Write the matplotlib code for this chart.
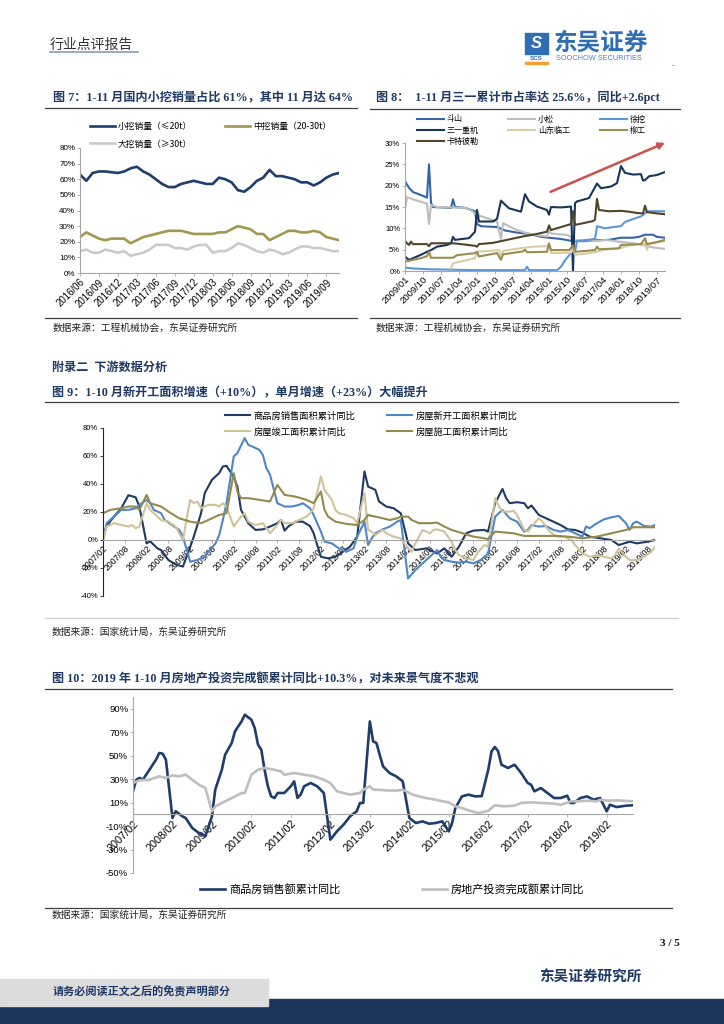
import numpy as np
import pandas as pd
import matplotlib
matplotlib.use('Agg')
import matplotlib.pyplot as plt
from matplotlib.lines import Line2D
from matplotlib.patches import Rectangle
from matplotlib.ticker import FuncFormatter

W, H = 724, 1024
CJK = 'Noto Sans CJK SC'
SANS = ['Liberation Sans', CJK]
SERIF = ['Liberation Serif', CJK]
TITLE_C = '#1F3864'

plt.rcParams['font.family'] = SANS
plt.rcParams['axes.unicode_minus'] = False

# ---------------- data ----------------
# Fig 7: monthly share of excavator sales, 2016/06 - 2019/11
exc_start = '2016-06'
exc_small = [63, 59, 64, 65, 65, 64.5, 64, 65, 67, 68, 65, 63, 60, 57, 55, 55, 57, 58, 59, 58, 57,
             57, 61, 60, 58, 53, 52, 55, 59, 61, 66, 62, 62, 61, 60, 58, 58, 56, 58, 61, 63, 64]
exc_mid = [23, 26, 24, 22, 21, 22, 22, 22, 19, 21, 23, 24, 25, 26, 27, 27, 27, 26, 25, 25, 25,
           25, 26, 26, 28, 30, 29, 28, 25, 25, 21, 23, 25, 27, 27, 26, 26, 27, 26, 23, 22, 21]
exc_large = [14, 15, 13, 13, 15, 14, 13, 14, 11, 12, 13, 15, 18, 18, 18, 16, 16, 15, 17, 18, 18,
             13, 14, 14, 16, 19, 18, 16, 14, 13, 15, 14, 12, 13, 15, 17, 17, 16, 16, 15, 14, 14]
exc_labels = ['小挖销量（≤20t）', '中挖销量（20-30t）', '大挖销量（≥30t）']

# Fig 8: market share, (months since 2009/01, %)
share_start, share_end = '2009-01', '2019-11'
doosan = [(0, 21), (2, 19.5), (4, 18.5), (8, 17.8), (11, 17.2), (12, 25), (13, 16), (14, 15), (23, 14.8),
          (24, 16.8), (25, 15), (30, 14.8), (35, 14), (36, 11), (38, 10.5), (46, 10.3), (50, 9.5), (56, 9),
          (62, 8.7), (68, 8), (72, 7.8), (78, 7.5), (84, 7), (90, 7), (96, 7.2), (102, 7.3), (108, 7.8),
          (114, 7.8), (117, 8), (120, 8.5), (124, 8.5), (126, 8), (130, 7.8)]
komatsu = [(0, 14.5), (1, 17.3), (4, 16.8), (8, 16.2), (11, 15.8), (12, 11), (13, 15.5), (16, 15), (30, 14.8),
           (33, 14.2), (36, 13.2), (40, 12.5), (46, 11.6), (48, 7.5), (49, 11.2), (52, 10.5), (56, 9.6),
           (60, 9), (64, 8.5), (71, 8.1), (72, 9.5), (73, 8.8), (80, 8.5), (82, 8.3), (84, 7.2), (90, 7.2),
           (96, 7), (100, 7.3), (108, 6.8), (114, 6.5), (120, 6), (124, 5.5), (130, 5.2)]
xcmg = [(0, 0.8), (4, 0.6), (12, 0.4), (24, 0.3), (36, 0.2), (60, 0.2), (61, 1.0), (62, 0.2), (76, 0.2),
        (78, 1), (80, 2.5), (83, 4.2), (85, 4.5), (86, 7), (95, 7.5), (96, 10.5), (100, 10), (104, 10.3),
        (108, 10.5), (110, 11.5), (116, 12.5), (118, 12.8), (120, 13.5), (121, 14), (130, 14)]
sany = [(0, 3.4), (2, 2.6), (4, 3), (8, 3.8), (11, 4.5), (13, 4.9), (16, 5.7), (21, 6.1), (23, 6.5), (24, 8),
        (25, 7.3), (32, 7.7), (35, 9.2), (36, 14.3), (37, 11.6), (44, 11.6), (46, 12.2), (48, 16.5),
        (49, 16), (52, 14.7), (58, 13.9), (60, 18), (62, 16.3), (66, 15.1), (71, 14.3), (72, 13.2),
        (73, 15), (78, 14.9), (83, 15.1), (84, 0), (85, 15.9), (86, 16.3), (92, 17.1), (96, 20.5),
        (98, 19.4), (103, 19.8), (106, 20.6), (108, 24.6), (110, 23), (114, 22.6), (118, 22.7),
        (119, 21.2), (120, 21.3), (122, 22.2), (126, 22.5), (130, 23.2)]
sdlg = [(23, 0.6), (24, 1.8), (35, 3.0), (36, 4.5), (47, 4.9), (48, 3.4), (49, 4.7), (60, 5.5), (64, 5.7),
        (71, 5.8), (72, 6.3), (73, 4.2), (83, 4.3), (84, 5.2), (85, 3.8), (94, 4.3), (100, 5), (108, 5.4),
        (112, 6.0), (120, 6.5), (121, 5.0), (122, 6.3), (130, 7.0)]
liugong = [(0, 2.2), (4, 2.6), (8, 3.0), (11, 3.5), (12, 4.5), (13, 3.1), (24, 3.1), (26, 3.7), (35, 4.2),
           (36, 4.5), (37, 3.4), (46, 4.2), (48, 2.6), (49, 3.9), (59, 4.6), (60, 5.0), (61, 4.4), (71, 4.5),
           (72, 6.5), (73, 4.9), (82, 4.9), (84, 6), (85, 4.5), (95, 4.9), (96, 5.7), (97, 5.1), (107, 5.3),
           (108, 6.1), (118, 6.3), (120, 7.7), (121, 6.3), (126, 6.8), (130, 7.3)]
cat = [(0, 7.1), (1, 6.5), (2, 6.1), (3, 6.9), (4, 6.3), (11, 6.3), (12, 5.8), (13, 6.5), (24, 6.5),
       (30, 6.2), (35, 5.9), (36, 5.7), (37, 6.3), (44, 6.6), (48, 7), (56, 7.8), (60, 8.2), (64, 8.5),
       (71, 9.2), (72, 10.7), (73, 9.6), (78, 10.3), (83, 11), (84, 14), (85, 10.8), (94, 11.7), (95, 12),
       (96, 16.9), (97, 14.3), (102, 14), (108, 14.1), (112, 13.9), (116, 13.6), (119, 13.5), (120, 15.3),
       (121, 13.8), (126, 13.5), (130, 13.3)]
share_labels = ['斗山', '小松', '徐挖', '三一重机', '山东临工', '柳工', '卡特彼勒']

# Fig 9 / Fig 10: (months since 2007/02, %), January not reported
stat_start, stat_end = '2007-02', '2019-10'
sold_area = [(0, 2), (1, 10), (3, 16.7), (5, 22.6), (7, 32), (9, 30.5), (10, 24), (12, -2.4), (13, -1),
             (15, -6), (16, -7.2), (18, -14.3), (20, -17.5), (22, -19), (24, -5), (25, 2.4), (27, 19.1),
             (28, 33.4), (30, 43), (32, 47.8), (33, 52.5), (34, 53), (36, 45), (37, 38.2), (38, 21.5),
             (40, 12), (42, 7.2), (44, 7.6), (46, 9.6), (48, 12), (49, 14.3), (50, 6.7), (51, 9.6),
             (53, 13.1), (55, 13.1), (57, 10), (58, 4.8), (60, -12), (62, -13.1), (64, -12), (66, -8.4),
             (68, -4.8), (70, 2.4), (72, 49), (73, 38.2), (75, 35.8), (76, 27.5), (78, 23.9), (80, 22.7),
             (82, 19.1), (84, -2.4), (86, -7.2), (89, -6), (92, -9.6), (94, -6), (96, -12), (98, -4.8),
             (100, 4.8), (102, 6.7), (105, 7.2), (106, 6), (108, 26.3), (110, 36.5), (111, 29.9),
             (112, 26.3), (114, 27), (116, 26.3), (117, 22.7), (118, 24.6), (120, 17.9), (122, 15.5),
             (124, 13.1), (126, 10.7), (128, 7.6), (130, 7.2), (132, 5.3), (134, 2.4), (137, 1.2),
             (140, 0), (142, -3.6), (145, -1.2), (147, -2.4), (150, -1.2), (152, 0)]
new_start = [(0, 0), (1, 12), (3, 16.7), (5, 21.5), (7, 21.5), (9, 22.7), (10, 25), (12, 28.7), (13, 26.3),
             (14, 21.5), (16, 19.1), (17, 14.3), (19, 10.7), (21, 7.2), (22, 2.4), (24, -15.5), (26, -14.3),
             (28, -12), (29, -8.4), (31, -2.4), (32, 3.6), (33, 14.3), (34, 26.3), (36, 59.7), (37, 62),
             (39, 72.8), (40, 68), (41, 66.9), (43, 64.5), (44, 60.9), (45, 51.3), (46, 46.6), (48, 26.3),
             (50, 23.9), (52, 23.9), (54, 25.1), (55, 26.3), (57, 22.7), (58, 17.9), (60, 6), (61, -1.2),
             (63, -2.4), (65, -6), (67, -8.4), (69, -6), (70, 2.4), (72, 13), (73, -3.6), (74, 1.2),
             (75, 4.8), (77, 7.6), (79, 9.6), (81, 13.1), (82, 14.3), (84, -27.5), (86, -21.5), (89, -14.3),
             (92, -7.2), (93, -12), (94, -14.3), (96, -15.5), (98, -16.2), (100, -15.5), (102, -16.7),
             (104, -14.3), (106, -10), (108, 16.7), (110, 21.5), (112, 15.5), (114, 13.1), (116, 6),
             (117, 7.2), (118, 10.7), (120, 9.6), (122, 10), (124, 7.2), (126, 6), (128, 7.2), (130, 4.8),
             (132, 2.4), (133, 9.6), (134, 8.4), (136, 12), (138, 14.8), (140, 16.2), (142, 17.2), (144, 12),
             (145, 7.2), (146, 12), (147, 13.1), (149, 10), (151, 9.6), (152, 10.7)]
completed = [(0, 0), (1, 9.6), (3, 12), (5, 10.7), (7, 9.6), (8, 10.7), (9, 8.4), (10, 9.6), (12, 26.3),
             (13, 21.5), (14, 19.1), (16, 14.3), (18, 13.1), (20, 9.6), (22, 0), (24, 28.7), (25, 26.3),
             (26, 27.5), (27, 22.7), (29, 25.1), (31, 25.1), (32, 23.9), (33, 26.3), (34, 23.9), (36, 9.6),
             (37, 13.1), (38, 16.7), (39, 19.1), (40, 13.1), (42, 10.7), (44, 12), (46, 4.8), (48, 10.7),
             (49, 14.3), (50, 12), (52, 12), (54, 14.3), (56, 16.7), (57, 19.1), (58, 22.7), (60, 45.4),
             (61, 35.8), (63, 28.7), (64, 21.5), (65, 19.1), (67, 17.9), (69, 15.5), (70, 12), (72, 33.4),
             (73, 7.2), (74, 6), (75, 3.6), (77, 7.2), (78, 4.8), (80, 2.4), (82, 1.2), (84, -6), (85, -8.4),
             (86, -2.4), (88, 7.2), (89, 6), (90, 4.8), (91, 7.2), (92, 7.6), (94, 6), (96, -1.2), (97, -7.2),
             (98, -10.8), (100, -13.1), (102, -14.3), (103, -9.6), (105, -3.6), (106, -4.8), (108, 30),
             (109, 23.9), (110, 20.3), (112, 20.3), (113, 21), (114, 17.9), (116, 7.2), (117, 6), (118, 9.6),
             (120, 15.5), (121, 13.1), (123, 6), (125, 2.4), (127, 2.4), (129, 0), (130, -3.6), (132, -9.6),
             (134, -12), (136, -10.8), (138, -12), (140, -13.1), (141, -10.8), (142, -6), (144, -12),
             (145, -14.3), (147, -14.3), (149, -12), (151, -8.4), (152, -4.8)]
under_constr = [(0, 19.1), (2, 21.5), (5, 22.7), (7, 23.9), (9, 23.9), (10, 21.5), (12, 32.2), (13, 26.3),
                (16, 23.9), (18, 20.3), (21, 15.5), (24, 13.1), (27, 12), (28, 13.1), (30, 15.5), (32, 17.9),
                (34, 19.1), (36, 47.8), (37, 34.6), (38, 29.9), (40, 29.9), (43, 28.7), (46, 27.5), (48, 39.4),
                (49, 35.8), (50, 32.2), (53, 31), (56, 28.7), (58, 26.3), (60, 34.6), (61, 21.5), (62, 16.7),
                (64, 13.1), (67, 11.5), (70, 10.7), (72, 14.3), (73, 17.9), (74, 17.2), (75, 16.7), (77, 15.5),
                (79, 14.3), (81, 15.5), (82, 16.7), (84, 16.7), (85, 14.3), (87, 12), (90, 12), (92, 12.4),
                (94, 9.6), (96, 7.2), (99, 4.8), (102, 2.4), (105, 1.2), (106, 0.7), (108, 6), (110, 5.5),
                (113, 4.8), (116, 2.9), (125, 2.9), (128, 2.4), (132, 1.2), (136, 2.4), (140, 4.8), (142, 6),
                (144, 7.2), (146, 9.1), (152, 9.1)]
area_labels = ['商品房销售面积累计同比', '房屋新开工面积累计同比', '房屋竣工面积累计同比', '房屋施工面积累计同比']

sales_value = [(0, 19.6), (1, 29.5), (2, 31), (3, 29.5), (5, 38), (7, 46.6), (8, 52.3), (9, 51.7), (10, 46.6),
               (12, -3.1), (13, 2.6), (15, -1.7), (16, -3.1), (18, -11.6), (20, -15.9), (22, -18.7), (24, -1.7),
               (25, 21), (27, 38), (28, 50.8), (30, 60.8), (31, 70.7), (32, 75), (33, 79.2), (34, 84.9),
               (36, 80.6), (37, 73.5), (38, 59.4), (39, 55.1), (40, 38), (41, 23.9), (42, 15.3), (43, 13.9),
               (44, 18.2), (46, 18.2), (48, 24), (49, 28.1), (50, 14), (51, 17), (52, 23.9), (54, 26.7),
               (56, 23.9), (58, 18.2), (60, -21.6), (62, -14.5), (64, -8.8), (66, -1.7), (68, 2.6), (69, 9.7),
               (70, 9.7), (72, 79.2), (73, 62.2), (74, 60.8), (75, 50.8), (76, 40.9), (78, 35.2), (80, 32.4),
               (82, 28.1), (84, -3.1), (86, -7.4), (88, -6), (90, -8), (92, -7.4), (94, -6), (96, -14.5),
               (97, -7.4), (98, 5.4), (100, 15.3), (102, 16.8), (104, 15.3), (106, 15.5), (108, 38),
               (109, 53.7), (110, 57.4), (111, 53.7), (112, 42.3), (114, 39.5), (116, 42.3), (118, 35.2),
               (120, 26.7), (121, 25.3), (122, 19.6), (124, 22.4), (126, 18.2), (128, 13.9), (130, 13.9),
               (132, 15.9), (133, 9.7), (134, 9.7), (136, 13.9), (138, 15.3), (140, 12.5), (142, 13.9),
               (144, 2.6), (145, 8.2), (147, 6.2), (150, 7.4), (152, 7.7)]
investment = [(0, 26.7), (2, 29), (5, 29.5), (8, 32.4), (10, 31), (12, 33.2), (14, 32.4), (16, 33.8), (18, 29.5),
              (20, 25.3), (22, 22.4), (24, 2.6), (25, 6.8), (27, 9.7), (29, 12.5), (31, 15.3), (33, 18.2),
              (34, 18.2), (36, 33.8), (38, 38), (40, 39.5), (43, 38), (45, 36.6), (46, 33.8), (49, 35.2),
              (52, 33.8), (55, 32.4), (58, 29.5), (60, 26.7), (62, 19.6), (64, 18.2), (66, 16.8), (69, 18.2),
              (70, 21), (72, 23.9), (73, 21), (74, 21), (77, 20.4), (80, 20.2), (82, 21), (85, 16.8), (87, 15.3),
              (89, 13.9), (92, 12.5), (94, 11.1), (96, 10.2), (98, 6.8), (100, 5.4), (102, 3.4), (105, 1.1),
              (106, 1.7), (108, 3), (110, 7.7), (113, 6.8), (116, 7.4), (118, 9.7), (121, 10.2), (124, 9.7),
              (128, 9.1), (130, 8.2), (132, 9.9), (133, 11.1), (135, 11.1), (138, 11.6), (141, 11.1),
              (142, 12.5), (144, 11.6), (147, 11.9), (152, 11.1)]
value_labels = ['商品房销售额累计同比', '房地产投资完成额累计同比']


# ---------------- helpers ----------------
def fx(x):
    return x / W


def fy(y):
    return 1 - y / H


def axes_px(fig, left, top, right, bottom):
    return fig.add_axes([fx(left), fy(bottom), (right - left) / W, (bottom - top) / H])


def hline(fig, x0, x1, y, color='#404040', lw=0.9):
    fig.add_artist(Line2D([fx(x0), fx(x1)], [fy(y), fy(y)], color=color, lw=lw))


def text_px(fig, x, y, s, **kw):
    kw.setdefault('va', 'center')
    fig.text(fx(x), fy(y), s, **kw)


def legend_item(fig, line, label, x, y, size, length=25):
    em = size * 100 / 72
    fig.legend([line], [label], loc='center left', bbox_to_anchor=(fx(x), fy(y)),
               frameon=False, handlelength=length / em, handletextpad=0.35,
               borderpad=0, borderaxespad=0, prop={'family': CJK, 'size': size})


def style_axes(ax, spine_c='#A6A6A6', left_c=None, ysize=5.5, xsize=6.5):
    for s in ['top', 'right']:
        ax.spines[s].set_visible(False)
    ax.spines['bottom'].set_color(spine_c)
    ax.spines['left'].set_color(left_c or spine_c)
    ax.spines['bottom'].set_linewidth(0.8)
    ax.spines['left'].set_linewidth(0.8)
    ax.tick_params(axis='y', labelsize=ysize, length=2, width=0.6, color=left_c or spine_c, pad=1.5)
    ax.tick_params(axis='x', labelsize=xsize, length=2, width=0.6, color=spine_c, pad=1)
    ax.yaxis.set_major_formatter(FuncFormatter(lambda v, p: f'{v:.0f}%'))
    ax.set_facecolor('none')


def rotate_xlabels(ax):
    for lab in ax.get_xticklabels():
        lab.set_rotation(45)
        lab.set_ha('right')
        lab.set_va('top')
        lab.set_rotation_mode('anchor')


def plot_points(ax, pts, **kw):
    m, v = zip(*pts)
    return ax.plot(m, v, solid_joinstyle='round', **kw)[0]


fig = plt.figure(figsize=(W / 100, H / 100), dpi=100)
fig.patch.set_facecolor('white')

# ---------------- header ----------------
text_px(fig, 50, 45, '行业点评报告', family=CJK, fontsize=10, color='#333333')
hline(fig, 50, 138, 52, color='#8A9BB8', lw=1.2)
fig.add_artist(Rectangle((fx(525), fy(54)), 23 / W, 21 / H, transform=fig.transFigure,
                         color='#2F6DB5'))
text_px(fig, 536.5, 43.5, 'S', fontsize=12, color='white', ha='center', weight='bold', style='italic')
text_px(fig, 536.5, 58.5, 'SCS', fontsize=4.5, color='#2F6DB5', ha='center', weight='bold')
fig.add_artist(Rectangle((fx(525), fy(63.5)), 23 / W, 1.6 / H, transform=fig.transFigure,
                         color='#F0A030'))
text_px(fig, 554, 43, '东吴证券', family=CJK, fontsize=17, weight='bold', color='#2F6DB5')
text_px(fig, 556, 58.5, 'SOOCHOW SECURITIES', fontsize=5.3, color='#4A85C6')
text_px(fig, 672, 66, '-', fontsize=5, color='#555555')

# ---------------- Fig 7 ----------------
text_px(fig, 53, 97, '图 7：1-11 月国内小挖销量占比 61%，其中 11 月达 64%', family=SERIF,
        fontsize=8.7, weight='bold', color=TITLE_C)
hline(fig, 45, 357, 108)
hline(fig, 45, 357, 318)
text_px(fig, 53, 328, '数据来源：工程机械协会，东吴证券研究所', family=CJK, fontsize=7, color='#222222')

exc_months = pd.period_range(exc_start, periods=len(exc_small), freq='M').strftime('%Y/%m')
ax7 = axes_px(fig, 80, 148, 339, 273)
x7 = np.arange(len(exc_months))
l_small, = ax7.plot(x7, exc_small, color='#1F3D6D', lw=1.9)
l_mid, = ax7.plot(x7, exc_mid, color='#A39752', lw=1.9)
l_large, = ax7.plot(x7, exc_large, color='#CACACA', lw=1.9)
ax7.set_xlim(0, len(exc_months) - 1)
ax7.set_ylim(0, 80)
ax7.set_yticks(np.arange(0, 81, 10))
ax7.set_xticks(x7[::3])
ax7.set_xticklabels(exc_months[::3])
style_axes(ax7, ysize=5.8, xsize=6.9)
rotate_xlabels(ax7)
legend_item(fig, l_small, exc_labels[0], 90, 127, 6.3)
legend_item(fig, l_mid, exc_labels[1], 225, 127, 6.3)
legend_item(fig, l_large, exc_labels[2], 90, 144, 6.3)

# ---------------- Fig 8 ----------------
text_px(fig, 376, 97, '图 8：  1-11 月三一累计市占率达 25.6%，同比+2.6pct', family=SERIF,
        fontsize=8.7, weight='bold', color=TITLE_C)
hline(fig, 370, 680, 109)
hline(fig, 370, 680, 318)
text_px(fig, 376, 328, '数据来源：工程机械协会，东吴证券研究所', family=CJK, fontsize=7, color='#222222')

share_months = pd.period_range(share_start, share_end, freq='M').strftime('%Y/%m')
ax8 = axes_px(fig, 405, 143, 665, 271)
share_series = [doosan, komatsu, xcmg, sany, sdlg, liugong, cat]
share_colors = ['#3566A8', '#BDBDBD', '#5B97D9', '#17365D', '#D8CEA4', '#9A8D4F', '#4E452B']
share_lines = [plot_points(ax8, s, color=c, lw=1.5) for s, c in zip(share_series, share_colors)]
ax8.set_xlim(0, len(share_months) - 1)
ax8.set_ylim(0, 30)
ax8.set_yticks(np.arange(0, 31, 5))
ax8.set_xticks(np.arange(0, len(share_months), 9))
ax8.set_xticklabels(share_months[::9])
style_axes(ax8, ysize=5.5, xsize=6.8)
rotate_xlabels(ax8)
ax8.annotate('', xy=(1.01, 1.01), xytext=(0.55, 0.61), xycoords='axes fraction',
             arrowprops=dict(arrowstyle='-|>', color='#C9514A', lw=1.8, mutation_scale=9),
             annotation_clip=False)
leg_pos = [(417, 119), (508, 119), (600, 119), (417, 130), (508, 130), (600, 130), (417, 141)]
for line, lab, (x, y) in zip(share_lines, share_labels, leg_pos):
    legend_item(fig, line, lab, x, y, 5.8, length=27)

# ---------------- Fig 9 ----------------
text_px(fig, 52, 368, '附录二  下游数据分析', family=SERIF, fontsize=8.7, weight='bold', color=TITLE_C)
text_px(fig, 52, 392, '图 9：1-10 月新开工面积增速（+10%），单月增速（+23%）大幅提升', family=SERIF,
        fontsize=8.7, weight='bold', color=TITLE_C)
hline(fig, 45, 678, 402)
hline(fig, 45, 678, 618, color='#D0D0D0')
text_px(fig, 52, 632, '数据来源：国家统计局，东吴证券研究所', family=CJK, fontsize=7, color='#222222')

stat_months = pd.period_range(stat_start, stat_end, freq='M').strftime('%Y/%m')
ax9 = axes_px(fig, 103, 428, 655, 596)
area_series = [sold_area, new_start, completed, under_constr]
area_colors = ['#1E3A64', '#4F86C6', '#CFC39A', '#958A4E']
area_lines = [plot_points(ax9, s, color=c, lw=1.5) for s, c in zip(area_series, area_colors)]
ax9.set_xlim(0, len(stat_months) - 1)
ax9.set_ylim(-40, 80)
ax9.set_yticks(np.arange(-40, 81, 20))
ax9.set_xticks(np.arange(0, len(stat_months), 6))
ax9.set_xticklabels(stat_months[::6])
style_axes(ax9, left_c='#222222', ysize=5.5, xsize=6.2)
ax9.spines['bottom'].set_position(('data', 0))
rotate_xlabels(ax9)
leg9 = [(225, 416), (387, 416), (225, 432), (387, 432)]
for line, lab, (x, y) in zip(area_lines, area_labels, leg9):
    legend_item(fig, line, lab, x, y, 6.7)

# ---------------- Fig 10 ----------------
text_px(fig, 52, 679, '图 10：2019 年 1-10 月房地产投资完成额累计同比+10.3%，对未来景气度不悲观',
        family=SERIF, fontsize=8.7, weight='bold', color=TITLE_C)
hline(fig, 45, 672, 689)
hline(fig, 45, 672, 908)
text_px(fig, 52, 915, '数据来源：国家统计局，东吴证券研究所', family=CJK, fontsize=7, color='#222222')

ax10 = axes_px(fig, 133, 697, 633, 873)
l_sales = plot_points(ax10, sales_value, color='#1F3D6B', lw=1.9)
l_inv = plot_points(ax10, investment, color='#BEBEBE', lw=1.9)
ax10.set_xlim(0, len(stat_months) - 1)
ax10.set_ylim(-50, 100)
ax10.set_yticks(np.arange(-50, 91, 20))
ax10.set_xticks(np.arange(0, len(stat_months), 12))
ax10.set_xticklabels(stat_months[::12])
style_axes(ax10, ysize=6.8, xsize=7.8)
ax10.spines['bottom'].set_position(('data', 0))
rotate_xlabels(ax10)
legend_item(fig, l_sales, value_labels[0], 200, 889, 8)
legend_item(fig, l_inv, value_labels[1], 422, 889, 8)

# ---------------- footer ----------------
text_px(fig, 680, 944, '3 / 5', family=SERIF, fontsize=8, weight='bold', color='#111111', ha='right')
text_px(fig, 641, 977, '东吴证券研究所', family=CJK, fontsize=10.5, weight='bold', color=TITLE_C, ha='right')
fig.add_artist(Rectangle((0, fy(1024)), 1, 25 / H, transform=fig.transFigure, color='#1B365D'))
fig.add_artist(Rectangle((0, fy(1006)), 268 / W, 27 / H, transform=fig.transFigure, color='#DCDCDC'))
text_px(fig, 53, 992, '请务必阅读正文之后的免责声明部分', family=CJK, fontsize=8, weight='bold', color=TITLE_C)

fig.savefig('out.png', dpi=100)
